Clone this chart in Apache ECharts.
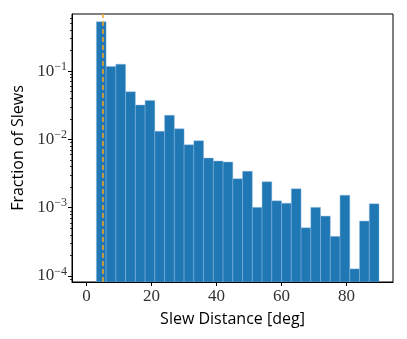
<!DOCTYPE html>
<html>
<head>
<meta charset="utf-8">
<script src="https://cdn.jsdelivr.net/npm/echarts@6/dist/echarts.min.js"></script>
<style>
  html, body { margin: 0; padding: 0; background: #fff; }
  #chart { width: 407px; height: 339px; }
</style>
</head>
<body>
<div id="chart"></div>
<script>
// histogram bins: left edges start at 3 deg, width 3 deg
const binStart = 3;
const binWidth = 3;
const fractions = [
  0.527, 0.117, 0.126, 0.0498, 0.0318, 0.0372, 0.0131, 0.0225, 0.0143, 0.00834,
  0.00955, 0.00532, 0.00481, 0.00465, 0.00265, 0.00340, 0.00101, 0.00239, 0.00126, 0.00116,
  0.00189, 0.000508, 0.00101, 0.000753, 0.000380, 0.00152, 0.000127, 0.000637, 0.00114
];
const thresholdDeg = [5];
const xTicks = [0, 20, 40, 60, 80];
const yTicks = [1e-4, 1e-3, 1e-2, 1e-1];

const xMin = -4.5, xMax = 94.3;
const yMin = Math.pow(10, -4.088), yMax = Math.pow(10, -0.165);

// minor ticks 2..9 x 10^k
const yMinor = [];
for (let k = -5; k <= 0; k++) {
  for (let m = 2; m <= 9; m++) {
    const v = m * Math.pow(10, k);
    if (v > yMin && v < yMax) yMinor.push(v);
  }
}

const histData = fractions.map((f, i) => [binStart + i * binWidth, binStart + (i + 1) * binWidth, f]);

const serif = "'Liberation Serif', 'DejaVu Serif', serif";
const sans = "'Open Sans', 'DejaVu Sans', sans-serif";

const expMap = { "-1": "−1", "-2": "−2", "-3": "−3", "-4": "−4" };

const chart = echarts.init(document.getElementById("chart"), null, { renderer: "canvas" });

chart.setOption({
  animation: false,
  grid: {
    left: 72, right: 14, top: 14, bottom: 57,
    outerBoundsMode: "none",
    containLabel: false,
    show: true, borderColor: "#000", borderWidth: 1, backgroundColor: "transparent"
  },
  xAxis: {
    type: "value",
    min: xMin, max: xMax,
    name: "Slew Distance [deg]",
    nameLocation: "middle",
    nameGap: 29,
    nameTextStyle: { fontFamily: sans, fontSize: 16, color: "#000" },
    splitLine: { show: false },
    axisLine: { show: true, onZero: false, lineStyle: { color: "#000", width: 1 } },
    axisTick: { show: true, length: 4, inside: false, customValues: xTicks, lineStyle: { color: "#000" } },
    axisLabel: { customValues: xTicks, fontFamily: serif, fontSize: 17, color: "#333", margin: 6 }
  },
  yAxis: [
    {
      type: "log",
      min: yMin, max: yMax,
      name: "Fraction of Slews",
      nameLocation: "middle",
      nameGap: 46,
      nameTextStyle: { fontFamily: sans, fontSize: 16, color: "#000" },
      splitLine: { show: false },
      axisLine: { show: true, onZero: false, lineStyle: { color: "#000", width: 1 } },
      axisTick: { show: true, length: 4, customValues: yTicks, lineStyle: { color: "#000" } },
      axisLabel: {
        customValues: yTicks,
        margin: 5,
        formatter: (v) => {
          const e = Math.round(Math.log10(v));
          return "{b|10}{s|" + (expMap[String(e)] || e) + "}";
        },
        rich: {
          b: { fontFamily: serif, fontSize: 17, color: "#333" },
          s: { fontFamily: serif, fontSize: 12, color: "#333", padding: [0, 0, 9, 0] }
        }
      }
    },
    {
      type: "log",
      min: yMin, max: yMax,
      position: "left",
      splitLine: { show: false },
      axisLine: { show: false, onZero: false },
      axisTick: { show: true, length: 2, customValues: yMinor, lineStyle: { color: "#000", width: 0.8 } },
      axisLabel: { show: false }
    }
  ],
  series: [
    {
      type: "custom",
      data: histData,
      encode: { x: [0, 1], y: 2 },
      clip: true,
      renderItem: (params, api) => {
        const p0 = api.coord([api.value(0), api.value(2)]);
        const p1 = api.coord([api.value(1), yMin]);
        const shape = echarts.graphic.clipRectByRect(
          { x: p0[0], y: p0[1], width: p1[0] - p0[0], height: p1[1] - p0[1] },
          { x: params.coordSys.x, y: params.coordSys.y, width: params.coordSys.width, height: params.coordSys.height }
        );
        return shape && {
          type: "rect",
          shape: shape,
          style: { fill: "#1f77b4", stroke: "rgba(140,185,225,0.55)", lineWidth: 0.8 }
        };
      }
    },
    {
      type: "line",
      data: [],
      markLine: {
        silent: true,
        symbol: "none",
        label: { show: false },
        lineStyle: { color: "#f5a623", type: [5, 3], width: 1.5 },
        data: thresholdDeg.map((d) => ({ xAxis: d }))
      }
    }
  ]
});
</script>
</body>
</html>
